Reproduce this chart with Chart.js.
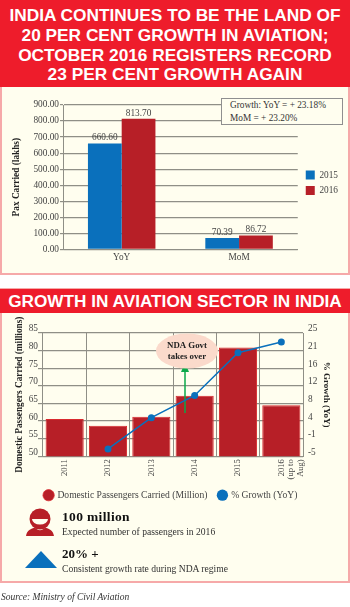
<!DOCTYPE html>
<html><head><meta charset="utf-8">
<script src="https://cdn.jsdelivr.net/npm/chart.js@4"></script>
<style>
html,body{margin:0;padding:0;background:#fff;width:350px;height:607px;overflow:hidden}
#page{position:relative;width:350px;height:607px;font-family:"Liberation Serif",serif;color:#333}
.panel{position:absolute;left:0;width:346px;background:#FFFEEF;border:2px solid #F6A9A9}
.head{position:absolute;left:0;width:350px;background:#EE1C2B;color:#fff;font-family:"Liberation Sans",sans-serif;font-weight:700;text-align:center;white-space:nowrap}
.head div{position:absolute;left:0;width:350px}
canvas{position:absolute;left:0}
.t{position:absolute;white-space:nowrap}
svg{position:absolute}
</style></head><body>
<div id="page">
<div class="panel" style="top:85px;height:186px"></div>
<div class="head" style="top:0;height:87px;font-size:17.3px;line-height:21px">
<div style="top:4.5px">INDIA CONTINUES TO BE THE LAND OF</div>
<div style="top:24.5px">20 PER CENT GROWTH IN AVIATION;</div>
<div style="top:44.5px">OCTOBER 2016 REGISTERS RECORD</div>
<div style="top:64px">23 PER CENT GROWTH AGAIN</div>
</div>
<canvas id="c1" width="350" height="186" style="top:87px;width:350px;height:186px"></canvas>
<div class="t" style="left:221px;top:98px;width:120px;height:25px;background:#FFFEEF;border:1px solid #8f8f8f;font-size:9.3px;line-height:12.5px;color:#333"><div style="padding-left:8px">Growth: YoY = + 23.18%<br>MoM = + 23.20%</div></div>

<div class="panel" style="top:288px;height:291px"></div>
<div class="head" style="top:289px;height:24px;font-size:17.2px;line-height:24px">GROWTH IN AVIATION SECTOR IN INDIA</div>
<canvas id="c2" width="350" height="200" style="top:313px;width:350px;height:200px"></canvas>

<svg style="left:25px;top:508px" width="30" height="29" viewBox="0 0 30 29">
<circle cx="15" cy="11" r="10.5" fill="#B71F27"/>
<path d="M7 11 h16 a8 5.5 0 0 1 -16 0z" fill="#FFFEEF"/>
<path d="M1 28 C2 22 6 21 10 19.5 C13 23 17 23 20 19.5 C24 21 28 22 29 28z" fill="#B71F27"/>
</svg>
<div class="t" style="left:62px;top:509px;font-size:13.5px;font-weight:700;color:#111;letter-spacing:.35px">100 million</div>
<div class="t" style="left:62px;top:526px;font-size:9.6px;color:#333">Expected number of passengers in 2016</div>
<svg style="left:24px;top:550px" width="34" height="19" viewBox="0 0 34 19"><path d="M17 1 L33 18 H1z" fill="#0A70BC"/></svg>
<div class="t" style="left:62px;top:546px;font-size:13px;font-weight:700;color:#111">20% +</div>
<div class="t" style="left:62px;top:562.5px;font-size:9.6px;color:#333">Consistent growth rate during NDA regime</div>
<div class="t" style="left:1px;top:592px;font-size:9.5px;font-style:italic;color:#333">Source: Ministry of Civil Aviation</div>
</div>
<script>
const paxCategories=['YoY','MoM'];
const pax2015=[660.60,70.39];
const pax2016=[813.70,86.72];
const years=['2011','2012','2013','2014','2015',['2016','(up to','Aug)']];
const domesticPassengers=[60.6,58.7,61.2,67.2,80.9,64.5];
const growthYoY=[null,-3.2,4.4,9.8,20.2,22.8];
const growthTickLabels=['-5','-1','4','8','12','16','21','25'];

const SERIF='"Liberation Serif",serif';
const GRID='#8f8f86', TXT='#444';
Chart.defaults.font.family=SERIF;
Chart.defaults.color=TXT;
Chart.defaults.animation=false;
Chart.defaults.responsive=false;

const barLabels={id:'barLabels',afterDatasetsDraw(c){
  const x=c.ctx;x.save();x.font='9.3px '+SERIF;x.fillStyle=TXT;x.textAlign='center';x.textBaseline='bottom';
  c.data.datasets.forEach((d,i)=>c.getDatasetMeta(i).data.forEach((b,j)=>{
    x.fillText(d.data[j].toFixed(2),b.x,b.y-1);
  }));x.restore();}};
const moveLegend=(dx,dy)=>({id:'moveLegend',afterLayout(c){const l=c.legend;l.left+=dx;l.right+=dx;l.top+=dy;l.bottom+=dy;}});

new Chart(document.getElementById('c1'),{type:'bar',plugins:[barLabels,moveLegend(2,-3)],
 data:{labels:paxCategories,datasets:[
  {label:'2015',data:pax2015,backgroundColor:'#0A70BC',borderWidth:0},
  {label:'2016',data:pax2016,backgroundColor:'#B71F27',borderWidth:0}]},
 options:{
  layout:{padding:{top:18,left:11,right:4,bottom:6.5}},
  datasets:{bar:{categoryPercentage:.575,barPercentage:1}},
  plugins:{tooltip:{enabled:false},
   legend:{position:'right',align:'center',labels:{boxWidth:9,boxHeight:9,padding:6,color:TXT,font:{size:9.3}}}},
  scales:{
   x:{grid:{display:false,drawTicks:false},border:{color:GRID,width:1},ticks:{color:TXT,font:{size:9.3},padding:3,maxRotation:0}},
   y:{min:0,max:900,afterFit(s){s.width=52;},
      grid:{color:GRID,lineWidth:1.2,tickLength:3},border:{color:GRID,width:1},
      ticks:{stepSize:100,color:TXT,font:{size:9.3},padding:1,callback:v=>v.toFixed(2)},
      title:{display:true,text:'Pax Carried (lakhs)',color:'#222',font:{size:9.3,weight:'bold'},padding:{top:0,bottom:0}}}
  }}});

const annot={id:'annot',afterDatasetDraw(c,a){ if(a.index!==0) return;
  const x=c.ctx;x.save();
  x.strokeStyle='#0BA84A';x.lineWidth=1.5;x.beginPath();x.moveTo(185,100);x.lineTo(185,58);x.stroke();
  x.fillStyle='#0BA84A';x.beginPath();x.moveTo(185,50);x.lineTo(189,59);x.lineTo(181,59);x.closePath();x.fill();
  x.fillStyle='#FBDACB';x.beginPath();x.ellipse(187,38,31,17.5,0,0,Math.PI*2);x.fill();
  x.fillStyle='#222';x.font='bold 8.8px '+SERIF;x.textAlign='center';x.textBaseline='middle';
  x.fillText('NDA Govt',187,33);x.fillText('takes over',187,43.5);
  x.restore();}};

new Chart(document.getElementById('c2'),{type:'bar',plugins:[annot,moveLegend(-2,-3)],
 data:{labels:years,datasets:[
  {type:'bar',label:'Domestic Passengers Carried (Million)',data:domesticPassengers,backgroundColor:'#B71F27',borderColor:'#D92A2F',borderWidth:{top:1,left:1,right:1,bottom:0},yAxisID:'y',order:1,categoryPercentage:.88,barPercentage:1},
  {type:'line',label:'% Growth (YoY)',data:growthYoY,borderColor:'#0A70BC',backgroundColor:'#0A70BC',borderWidth:1.5,pointRadius:3.5,pointBackgroundColor:'#0A70BC',pointBorderWidth:0,yAxisID:'y1',order:0}]},
 options:{
  layout:{padding:{top:20,left:14,right:18,bottom:0}},
  plugins:{tooltip:{enabled:false},
   legend:{position:'bottom',labels:{usePointStyle:true,pointStyle:'circle',boxWidth:8,boxHeight:8,padding:11,color:TXT,font:{size:9.6},sort:(a,b)=>a.datasetIndex-b.datasetIndex}}},
  scales:{
   x:{grid:{color:GRID,lineWidth:1,drawTicks:false},border:{color:GRID},
      ticks:{color:TXT,font:{size:8.5,lineHeight:1.15},minRotation:90,maxRotation:90,padding:3,autoSkip:false}},
   y:{min:50,max:85,position:'left',afterFit(s){s.width=29;},
      grid:{color:GRID,lineWidth:1.2,tickLength:5},border:{display:false},
      ticks:{stepSize:5,color:TXT,font:{size:9.3},padding:0,labelOffset:-4},
      title:{display:true,text:'Domestic Passengers Carried (millions)',color:'#222',font:{size:9.3,weight:'bold'},padding:{top:0,bottom:0}}},
   y1:{min:-5,max:25,position:'right',afterFit(s){s.width=29;},
      grid:{display:false,tickLength:2},border:{display:false},
      ticks:{stepSize:30/7,color:TXT,font:{size:9.3},padding:3,labelOffset:-4,callback:(v,i)=>growthTickLabels[i]},
      title:{display:true,text:'% Growth (YoY)',color:'#222',font:{size:9,weight:'bold'},padding:{top:0,bottom:0}}}
  }}});
</script>
</body></html>
